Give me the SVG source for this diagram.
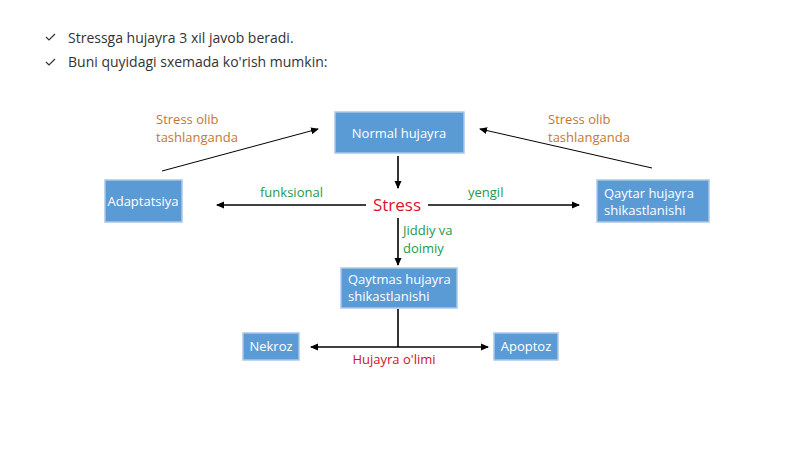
<svg xmlns="http://www.w3.org/2000/svg" width="800" height="449" viewBox="0 0 800 449">
<defs>
<marker id="a" markerWidth="8" markerHeight="8" refX="7" refY="4" orient="auto" markerUnits="userSpaceOnUse"><path d="M0,0.5 L8,4 L0,7.5 z" fill="#000"/></marker>
<style>
text{font-family:"Open Sans","Noto Sans",sans-serif}
.b{fill:#5b9bd5;stroke:#a9c8e8;stroke-width:1.5}
.t{fill:#fff;font-size:13px}
.l{stroke:#000;stroke-width:1.6;fill:none}
.o{fill:#c5772e;font-size:13px}
.g{fill:#1e9a4a;font-size:13px}
.h{fill:#333;font-size:14px}
</style>
</defs>
<rect width="800" height="449" fill="#fff"/>
<g id="header">
<path d="M46,37 l3,3 l6,-6 M46,62 l3,3 l6,-6" stroke="#333" stroke-width="1.2" fill="none"/>
<text class="h" x="68" y="43">Stressga hujayra 3 xil javob beradi.</text>
<text class="h" x="68" y="67">Buni quyidagi sxemada ko'rish mumkin:</text>
</g>
<g id="connectors">
<line class="l" x1="398" y1="156" x2="398" y2="188" marker-end="url(#a)"/>
<line class="l" x1="366" y1="205" x2="217" y2="205" marker-end="url(#a)"/>
<line class="l" x1="428" y1="205" x2="579" y2="205" marker-end="url(#a)"/>
<line class="l" x1="398" y1="218" x2="398" y2="265" marker-end="url(#a)"/>
<line class="l" x1="398" y1="309" x2="398" y2="347"/>
<line class="l" x1="398" y1="347" x2="311" y2="347" marker-end="url(#a)"/>
<line class="l" x1="398" y1="347" x2="488" y2="347" marker-end="url(#a)"/>
<line stroke="#000" stroke-width="1" x1="162" y1="171" x2="318" y2="129" marker-end="url(#a)"/>
<line stroke="#000" stroke-width="1" x1="652" y1="168" x2="480" y2="129" marker-end="url(#a)"/>
</g>
<g id="labels">
<text class="o" x="156" y="124">Stress olib</text>
<text class="o" x="156" y="142">tashlanganda</text>
<text class="o" x="548" y="124">Stress olib</text>
<text class="o" x="548" y="142">tashlanganda</text>
<text class="g" x="260" y="197">funksional</text>
<text class="g" x="468" y="197">yengil</text>
<text class="g" x="403" y="235">Jiddiy va</text>
<text class="g" x="403" y="253">doimiy</text>
<text x="397" y="211" fill="#e0102f" font-size="17" text-anchor="middle">Stress</text>
<text x="394" y="364" fill="#d0102f" font-size="13" text-anchor="middle">Hujayra o'limi</text>
</g>
<g id="normal"><rect class="b" x="335" y="112" width="129" height="41"/><text class="t" x="399" y="138" text-anchor="middle" font-size="14">Normal hujayra</text></g>
<g id="adaptatsiya"><rect class="b" x="105" y="180" width="77" height="42"/><text class="t" x="143" y="206" text-anchor="middle">Adaptatsiya</text></g>
<g id="qaytar"><rect class="b" x="597" y="180" width="112" height="42"/><text class="t" x="604" y="198">Qaytar hujayra</text><text class="t" x="604" y="215">shikastlanishi</text></g>
<g id="qaytmas"><rect class="b" x="341" y="268" width="116" height="40"/><text class="t" x="348" y="284">Qaytmas hujayra</text><text class="t" x="348" y="301">shikastlanishi</text></g>
<g id="nekroz"><rect class="b" x="243" y="333" width="56" height="27"/><text class="t" x="271" y="351" text-anchor="middle">Nekroz</text></g>
<g id="apoptoz"><rect class="b" x="494" y="333" width="64" height="27"/><text class="t" x="526" y="351" text-anchor="middle">Apoptoz</text></g>
</svg>
